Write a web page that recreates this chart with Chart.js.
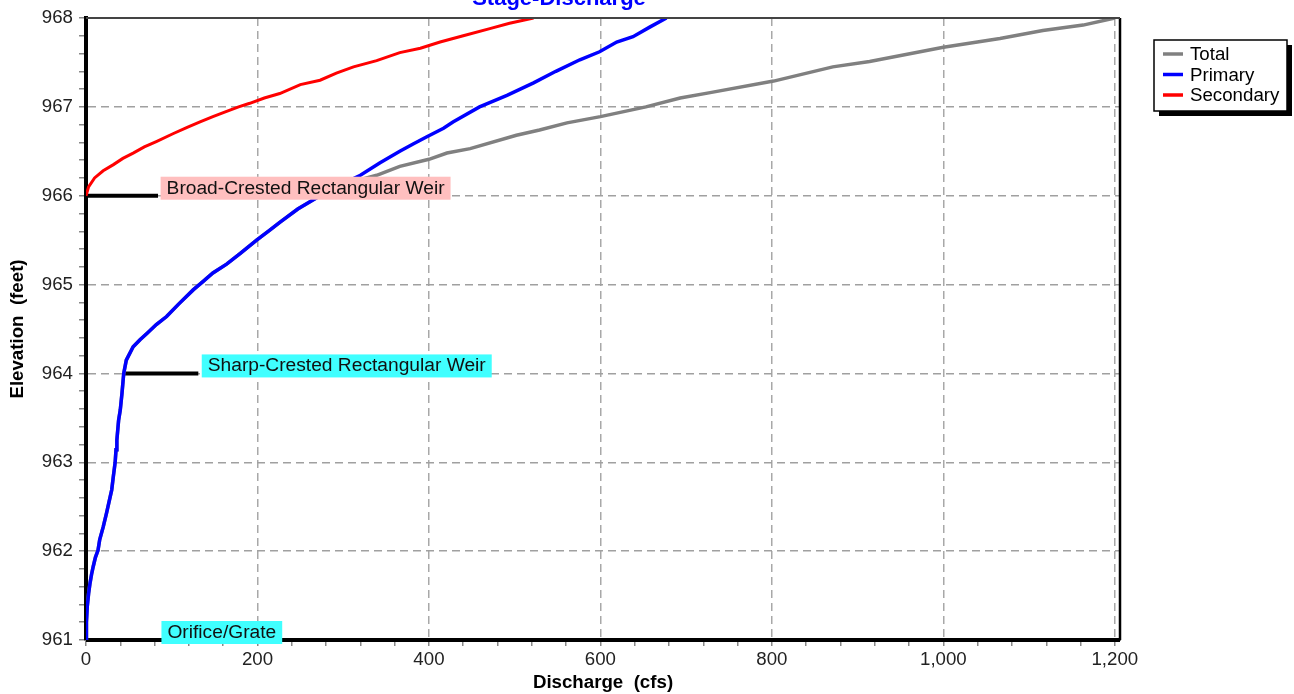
<!DOCTYPE html>
<html>
<head>
<meta charset="utf-8">
<title>Stage-Discharge</title>
<script src="https://cdn.jsdelivr.net/npm/chart.js@4"></script>
<style>
  body { margin: 0; background: #fff; }
  canvas { display: block; }
</style>
</head>
<body>
<canvas id="chart" width="1294" height="694"></canvas>
<script>
// values (discharge in cfs, elevation in feet)
const primaryQ = [0, 0.5, 1.5, 3, 4.7, 6.5, 8.5, 11, 14, 16, 20, 24, 27, 30, 32, 34, 35, 36, 38, 40, 42, 44, 47, 55, 63, 71, 82, 94, 108, 125, 136, 148, 164, 180, 199, 214, 226, 247, 273, 296, 320, 343, 366, 381, 397, 417, 428, 459, 491, 522, 548, 576, 599, 619, 638, 658, 677];
const primaryElev = [961.0, 961.2, 961.38, 961.52, 961.64, 961.74, 961.83, 961.93, 962.01, 962.13, 962.27, 962.43, 962.56, 962.69, 962.85, 963.0, 963.14, 963.25, 963.47, 963.59, 963.78, 964.0, 964.15, 964.3, 964.38, 964.45, 964.55, 964.64, 964.78, 964.94, 965.03, 965.13, 965.23, 965.35, 965.5, 965.61, 965.7, 965.85, 966.0, 966.12, 966.23, 966.37, 966.5, 966.58, 966.66, 966.76, 966.83, 967.0, 967.13, 967.27, 967.4, 967.53, 967.62, 967.73, 967.79, 967.9, 968.0];

const secondaryQ = [0, 3, 10, 20, 32, 43, 55, 68, 82, 102, 118, 133, 148, 164, 178, 191, 208, 226, 250, 273, 292, 312, 339, 366, 390, 413, 440, 471, 494, 522];
const secondaryElev = [966.0, 966.1, 966.2, 966.28, 966.35, 966.42, 966.48, 966.55, 966.61, 966.70, 966.77, 966.83, 966.89, 966.95, 967.0, 967.04, 967.1, 967.15, 967.25, 967.30, 967.38, 967.45, 967.52, 967.61, 967.66, 967.73, 967.80, 967.88, 967.94, 968.0];

// below the broad-crested weir the total follows the primary curve
const totalQ = [0, 0.5, 1.5, 3, 4.7, 6.5, 8.5, 11, 14, 16, 20, 24, 27, 30, 32, 34, 35, 36, 38, 40, 42, 44, 47, 55, 63, 71, 82, 94, 108, 125, 136, 148, 164, 180, 199, 214, 226, 247, 273, 285, 302, 320, 339, 366, 400, 421, 448, 502, 529, 561, 600, 653, 693, 728, 802, 871, 914, 1000, 1066, 1116, 1163, 1200];
const totalElev = [961.0, 961.2, 961.38, 961.52, 961.64, 961.74, 961.83, 961.93, 962.01, 962.13, 962.27, 962.43, 962.56, 962.69, 962.85, 963.0, 963.14, 963.25, 963.47, 963.59, 963.78, 964.0, 964.15, 964.3, 964.38, 964.45, 964.55, 964.64, 964.78, 964.94, 965.03, 965.13, 965.23, 965.35, 965.5, 965.61, 965.7, 965.85, 966.0, 966.06, 966.12, 966.18, 966.23, 966.33, 966.41, 966.48, 966.53, 966.68, 966.74, 966.82, 966.89, 967.0, 967.10, 967.16, 967.29, 967.45, 967.51, 967.67, 967.77, 967.86, 967.92, 968.0];

// outlet structures: crest elevation, marker line extent, label
const structNames = ['Broad-Crested Rectangular Weir', 'Sharp-Crested Rectangular Weir', 'Orifice/Grate'];
const structElev = [966, 964, 961];
const structLineFrom = [0, 43.5, 0];
const structLineTo = [84, 131, 1206];
const structLabelAt = [87, 135, 88];
const structColors = ['#ffbfbf', '#40ffff', '#40ffff'];

const xTickLabels = [0, 200, 400, 600, 800, 1000, 1200];
const yTickLabels = [961, 962, 963, 964, 965, 966, 967, 968];
const xMinorStep = 40;
const yMinorStep = 0.2;

const FONT = "'Liberation Sans', Arial, sans-serif";

const toPoints = (xs, ys) => xs.map((x, i) => ({ x: x, y: ys[i] }));

const seriesStyle = (label, color, width, order) => ({
  label: label,
  borderColor: color,
  backgroundColor: color,
  borderWidth: width,
  pointRadius: 0,
  showLine: true,
  tension: 0,
  order: order
});

const datasets = [
  Object.assign(seriesStyle('Total', '#808080', 3.5, 2), { data: toPoints(totalQ, totalElev) }),
  Object.assign(seriesStyle('Primary', '#0000ff', 3.5, 1), { data: toPoints(primaryQ, primaryElev) }),
  Object.assign(seriesStyle('Secondary', '#ff0000', 3, 0), { data: toPoints(secondaryQ, secondaryElev) })
];

structElev.forEach((e, i) => {
  datasets.push(Object.assign(seriesStyle('', '#000', 4, 3), {
    data: [{ x: structLineFrom[i], y: e }, { x: structLineTo[i], y: e }],
    clip: 4
  }));
});

// title, plot frame, structure labels and the boxed legend
const decorations = {
  id: 'decorations',
  afterDatasetsDraw(chart) {
    const c = chart.ctx;
    const xs = chart.scales.x, ys = chart.scales.y;
    const a = chart.chartArea;
    c.save();
    // frame (right and top)
    c.strokeStyle = '#000';
    c.lineWidth = 2.5;
    c.beginPath();
    c.moveTo(a.right, a.bottom);
    c.lineTo(a.right, a.top);
    c.stroke();
    c.strokeStyle = '#444';
    c.lineWidth = 2;
    c.beginPath();
    c.moveTo(a.left, a.top);
    c.lineTo(a.right, a.top);
    c.stroke();

    c.font = '19.2px ' + FONT;
    c.textBaseline = 'middle';
    structNames.forEach((name, i) => {
      const x = xs.getPixelForValue(structLabelAt[i]);
      const y = ys.getPixelForValue(structElev[i]);
      const w = c.measureText(name).width + 12;
      c.fillStyle = structColors[i];
      c.fillRect(x, y - 19, w, 23);
      c.fillStyle = '#111';
      c.fillText(name, x + 6, y - 7.5);
    });
    c.restore();
  },
  afterDraw(chart) {
    const c = chart.ctx;
    c.save();
    // title sits partly above the canvas edge like the original
    c.font = 'bold 22px ' + FONT;
    c.fillStyle = '#0000ff';
    c.textAlign = 'center';
    c.textBaseline = 'alphabetic';
    c.fillText('Stage-Discharge', 559, 5);

    // legend with drop shadow
    const lx = 1154, ly = 40, lw = 133, lh = 71;
    c.fillStyle = '#000';
    c.fillRect(lx + 5, ly + 5, lw, lh);
    c.fillStyle = '#fff';
    c.fillRect(lx, ly, lw, lh);
    c.strokeStyle = '#000';
    c.lineWidth = 1.5;
    c.strokeRect(lx, ly, lw, lh);
    c.font = '18.7px ' + FONT;
    c.textAlign = 'left';
    c.textBaseline = 'middle';
    chart.data.datasets.slice(0, 3).forEach((ds, i) => {
      const y = ly + 14 + i * 20.5;
      c.strokeStyle = ds.borderColor;
      c.lineWidth = 3.5;
      c.beginPath();
      c.moveTo(lx + 9, y);
      c.lineTo(lx + 29, y);
      c.stroke();
      c.fillStyle = '#000';
      c.fillText(ds.label, lx + 36, y + 1);
    });
    c.restore();
  }
};

const isMajorX = v => xTickLabels.includes(v);
const isMajorY = v => yTickLabels.includes(Math.round(v * 10) / 10);

new Chart(document.getElementById('chart'), {
  type: 'scatter',
  data: { datasets: datasets },
  options: {
    responsive: false,
    animation: false,
    layout: { padding: { top: 18, right: 174, left: 0, bottom: 0 } },
    plugins: {
      legend: { display: false },
      tooltip: { enabled: false }
    },
    scales: {
      x: {
        type: 'linear',
        min: 0,
        max: 1206,
        afterBuildTicks: s => {
          const t = [];
          for (let v = 0; v <= xTickLabels[xTickLabels.length - 1]; v += xMinorStep) t.push({ value: v });
          s.ticks = t;
        },
        afterFit: s => { s.height = 54; },
        ticks: {
          autoSkip: false,
          maxRotation: 0,
          padding: 3,
          color: '#222',
          font: { family: FONT, size: 18.7 },
          callback: v => isMajorX(v) ? v.toLocaleString('en-US') : ''
        },
        grid: {
          color: c => isMajorX(c.tick.value) ? '#a8a8a8' : 'transparent',
          lineWidth: 1.5,
          tickColor: '#888',
          tickWidth: 1.5,
          tickLength: 6
        },
        border: { color: '#000', width: 1, dash: [8, 5] },
        title: {
          display: true,
          text: 'Discharge  (cfs)',
          color: '#000',
          font: { family: FONT, size: 18.7, weight: 'bold' },
          padding: { top: 0, bottom: 0 }
        }
      },
      y: {
        type: 'linear',
        min: 961,
        max: 968,
        afterBuildTicks: s => {
          const t = [];
          const n = Math.round((yTickLabels[yTickLabels.length - 1] - yTickLabels[0]) / yMinorStep);
          for (let i = 0; i <= n; i++) t.push({ value: Math.round((yTickLabels[0] + i * yMinorStep) * 10) / 10 });
          s.ticks = t;
        },
        afterFit: s => { s.width = 86; },
        ticks: {
          autoSkip: false,
          padding: 6,
          color: '#222',
          font: { family: FONT, size: 18.7 },
          callback: v => isMajorY(v) ? String(Math.round(v)) : ''
        },
        grid: {
          color: c => isMajorY(c.tick.value) ? '#a0a0a0' : 'transparent',
          lineWidth: 1.5,
          tickColor: '#888',
          tickWidth: 1.5,
          tickLength: 7
        },
        border: { color: '#000', width: 4, dash: [8, 5] },
        title: {
          display: true,
          text: 'Elevation  (feet)',
          color: '#000',
          font: { family: FONT, size: 18.7, weight: 'bold' },
          padding: { top: 7, bottom: 0 }
        }
      }
    }
  },
  plugins: [decorations]
});
</script>
</body>
</html>
